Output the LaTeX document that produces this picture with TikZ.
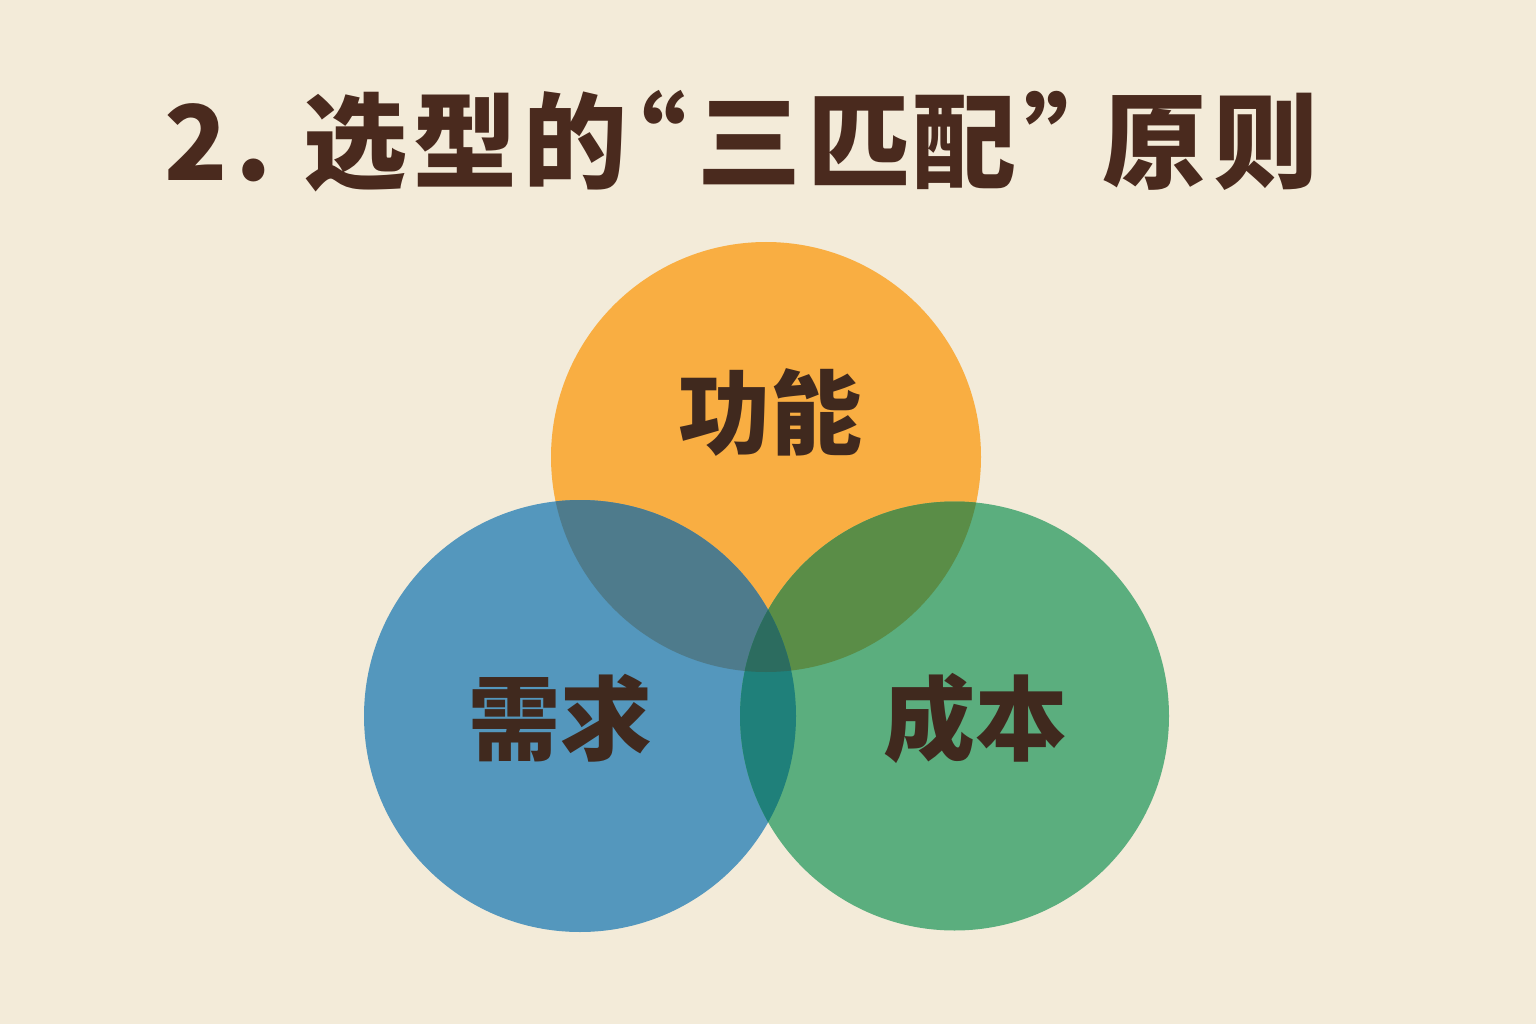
\documentclass[tikz,border=0pt]{standalone}
\usepackage{fontspec}
\newfontfamily\cjk{Noto Sans CJK SC}
\definecolor{bg}{HTML}{F3EBD9}
\definecolor{ink}{HTML}{4A2A1E}
\definecolor{lab}{HTML}{40291E}
\definecolor{cor}{HTML}{F9AE42}
\definecolor{cbl}{HTML}{5497BD}
\definecolor{cgr}{HTML}{5BAE7E}
\definecolor{cbo}{HTML}{4E7B8C}
\definecolor{cog}{HTML}{5A8D47}
\definecolor{cbg}{HTML}{1F807A}
\definecolor{call}{HTML}{2C6C5F}
\tikzset{lbl/.style={font=\cjk\bfseries\fontsize{92}{92}\selectfont, text=lab, inner sep=0pt}}
\begin{document}
\begin{tikzpicture}[x=1pt,y=-1pt]
\fill[bg] (0,0) rectangle (1536,1024);
\useasboundingbox (0,0) rectangle (1536,1024);
\def\corc{(766,457) circle[radius=215]}
\def\cblc{(580,716) circle[radius=216]}
\def\cgrc{(954.5,716) circle[radius=214.5]}
\fill[cor] \corc;
\fill[cbl] \cblc;
\fill[cgr] \cgrc;
\begin{scope}\clip \corc; \fill[cbo] \cblc; \fill[cog] \cgrc;\end{scope}
\begin{scope}\clip \cblc; \fill[cbg] \cgrc;\end{scope}
\begin{scope}\clip \corc; \clip \cblc; \fill[call] \cgrc;\end{scope}
\node[anchor=west, inner sep=0pt, text=ink, font=\cjk\bfseries\fontsize{104}{104}\selectfont] (title) at (164,141) {2\kern8pt.\kern0.3em 选\kern6pt 型\kern6pt 的\kern-0.36em\kern-7pt“\kern11pt 三\kern6pt 匹\kern1pt 配\kern0.12em\kern-5pt”\kern-0.38em\kern14pt 原\kern8pt 则};
\node[lbl] (gn) at (770,412) {功能};
\node[lbl] (xq) at (560,718) {需求};
\node[lbl] (cb) at (975,718) {成本};
\end{tikzpicture}
\end{document}
